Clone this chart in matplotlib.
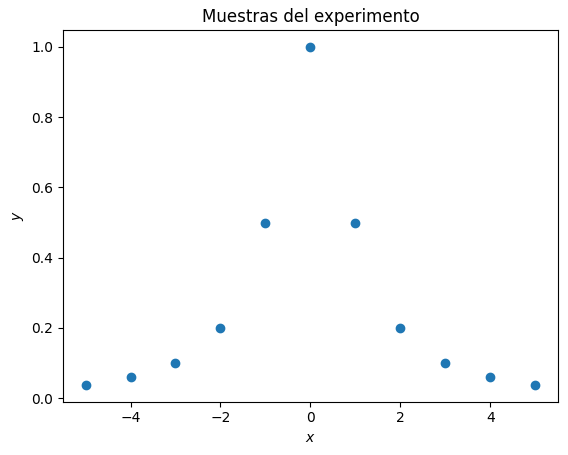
import matplotlib
matplotlib.use("Agg")
import matplotlib.pyplot as plt

x_values = [-5, -4, -3, -2, -1, 0, 1, 2, 3, 4, 5]
y_values = [0.038, 0.059, 0.1, 0.2, 0.5, 1.0, 0.5, 0.2, 0.1, 0.059, 0.038]

fig, ax = plt.subplots(figsize=(5.68, 4.55), dpi=100)
ax.scatter(x_values, y_values, color="#1f77b4")
ax.set_title("Muestras del experimento")
ax.set_xlabel("$x$")
ax.set_ylabel("$y$")
fig.subplots_adjust(left=0.111, right=0.982, bottom=0.117, top=0.934)
fig.savefig("out.png", dpi=100)
